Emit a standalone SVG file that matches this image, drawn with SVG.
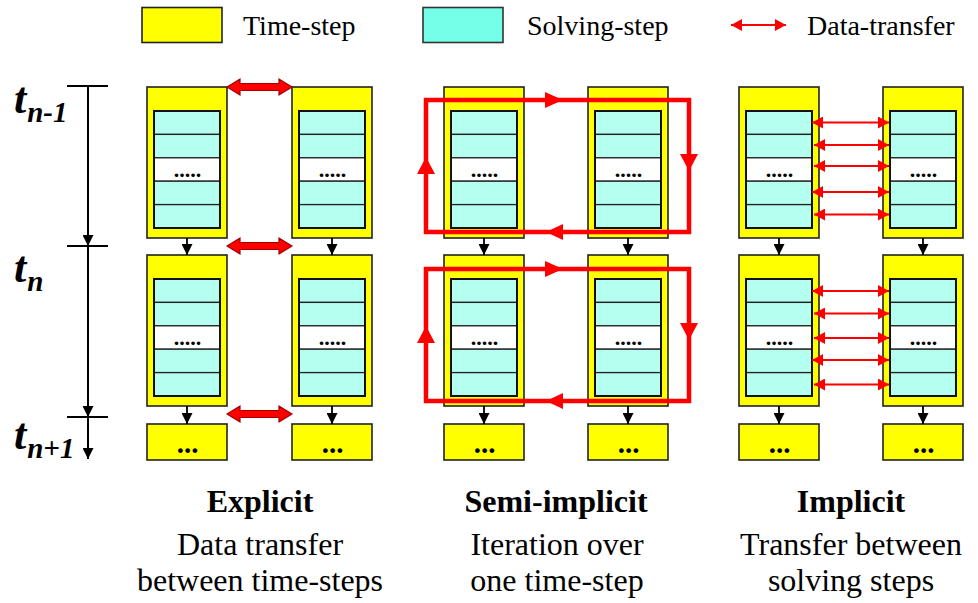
<svg xmlns="http://www.w3.org/2000/svg" xmlns:xlink="http://www.w3.org/1999/xlink" width="978" height="603" viewBox="0 0 978 603">
<style>
.ts{fill:#FFFF00;stroke:#222;stroke-width:1.6}
.row{fill:#B5FFF0;stroke:#222;stroke-width:1.3}
.wrow{fill:#FFFFFF;stroke:#222;stroke-width:1.3}
.frame{fill:none;stroke:#111;stroke-width:2}
.txt{font-family:"Liberation Serif","Times New Roman",serif;fill:#000}
.dots{font-family:"Liberation Serif","Times New Roman",serif;font-weight:bold;fill:#000;text-anchor:middle}
.blk{stroke:#000;stroke-width:1.8;fill:none}
.axis{stroke:#000;stroke-width:2;fill:none}
.loop{stroke:#FF0000;stroke-width:4.5;fill:none;stroke-linejoin:miter}
.lh{fill:#FF0000}
.thin{stroke:#FF0000;stroke-width:2.2;fill:none}
.fat{fill:#FF0000;stroke:#A00000;stroke-width:1.2}
.tl{font-family:"Liberation Serif","Times New Roman",serif;font-weight:bold;font-style:italic;fill:#000}
.cap{font-family:"Liberation Serif","Times New Roman",serif;fill:#000;text-anchor:middle}
</style>
<defs>
<marker id="ah" markerUnits="userSpaceOnUse" markerWidth="11" markerHeight="11" refX="11" refY="5.5" orient="auto">
<path d="M0,0 L11,5.5 L0,11 z" fill="#000"/>
</marker>
<marker id="rh" markerUnits="userSpaceOnUse" markerWidth="12" markerHeight="12" refX="11" refY="6" orient="auto-start-reverse">
<path d="M0,0 L11,6 L0,12 z" fill="#FF0000"/>
</marker>
<g id="stack">
<rect class="ts" x="0" y="0" width="80" height="151"/>
<rect class="row" x="7" y="24" width="66" height="23.4"/>
<rect class="row" x="7" y="47.4" width="66" height="23.4"/>
<rect class="wrow" x="7" y="70.8" width="66" height="23.4"/>
<rect class="row" x="7" y="94.2" width="66" height="23.4"/>
<rect class="row" x="7" y="117.6" width="66" height="23.4"/>
<rect class="frame" x="7" y="24" width="66" height="117"/>
<text class="dots" x="40.5" y="90" font-size="22">.....</text>
</g>
<g id="small">
<rect class="ts" x="0" y="0" width="80" height="36"/>
<text class="dots" x="40.5" y="28.5" font-size="29">...</text>
</g>
<path id="dbl" d="M0,0 L13,-8 L13,-3.5 L52,-3.5 L52,-8 L65,0 L52,8 L52,3.5 L13,3.5 L13,8 z"/>
</defs>

<!-- legend -->
<g id="legend">
<rect class="ts" x="142" y="7.5" width="80" height="35"/>
<text class="txt" x="243" y="35" font-size="28">Time-step</text>
<rect x="423" y="7.5" width="80" height="35" fill="#74FFE8" stroke="#333" stroke-width="1.6"/>
<text class="txt" x="527" y="35" font-size="28">Solving-step</text>
<path class="thin" d="M731,25 H786" marker-start="url(#rh)" marker-end="url(#rh)"/>
<text class="txt" x="807" y="35" font-size="28">Data-transfer</text>
</g>

<!-- time axis -->
<g id="time-axis">
<path class="axis" d="M67,86 H108 M67,246 H108 M67,417 H108"/>
<path class="axis" d="M88,86 V246" marker-end="url(#ah)"/>
<path class="axis" d="M88,246 V417" marker-end="url(#ah)"/>
<path class="axis" d="M88,417 V459" marker-end="url(#ah)"/>
<text class="tl" x="14" y="113" font-size="44">t<tspan font-size="29" dx="1" dy="9">n-1</tspan></text>
<text class="tl" x="14" y="282" font-size="44">t<tspan font-size="29" dx="1" dy="9">n</tspan></text>
<text class="tl" x="14" y="449" font-size="44">t<tspan font-size="29" dx="1" dy="9">n+1</tspan></text>
</g>

<!-- explicit -->
<g id="exp-l1"><use xlink:href="#stack" x="147" y="87"/></g>
<g id="exp-r1"><use xlink:href="#stack" x="292" y="87"/></g>
<g id="exp-l2"><use xlink:href="#stack" x="147" y="255"/></g>
<g id="exp-r2"><use xlink:href="#stack" x="292" y="255"/></g>
<g id="exp-l3"><use xlink:href="#small" x="147" y="424"/></g>
<g id="exp-r3"><use xlink:href="#small" x="292" y="424"/></g>

<!-- semi-implicit -->
<g id="semi-l1"><use xlink:href="#stack" x="444" y="87"/></g>
<g id="semi-r1"><use xlink:href="#stack" x="588" y="87"/></g>
<g id="semi-l2"><use xlink:href="#stack" x="444" y="255"/></g>
<g id="semi-r2"><use xlink:href="#stack" x="588" y="255"/></g>
<g id="semi-l3"><use xlink:href="#small" x="444" y="424"/></g>
<g id="semi-r3"><use xlink:href="#small" x="588" y="424"/></g>

<!-- implicit -->
<g id="imp-l1"><use xlink:href="#stack" x="739" y="87"/></g>
<g id="imp-r1"><use xlink:href="#stack" x="883" y="87"/></g>
<g id="imp-l2"><use xlink:href="#stack" x="739" y="255"/></g>
<g id="imp-r2"><use xlink:href="#stack" x="883" y="255"/></g>
<g id="imp-l3"><use xlink:href="#small" x="739" y="424"/></g>
<g id="imp-r3"><use xlink:href="#small" x="883" y="424"/></g>

<!-- connectors -->
<g id="connectors">
<path class="blk" d="M187,238 V255" marker-end="url(#ah)"/>
<path class="blk" d="M332,238 V255" marker-end="url(#ah)"/>
<path class="blk" d="M484,238 V255" marker-end="url(#ah)"/>
<path class="blk" d="M628,238 V255" marker-end="url(#ah)"/>
<path class="blk" d="M779,238 V255" marker-end="url(#ah)"/>
<path class="blk" d="M923,238 V255" marker-end="url(#ah)"/>
<path class="blk" d="M187,406 V424" marker-end="url(#ah)"/>
<path class="blk" d="M332,406 V424" marker-end="url(#ah)"/>
<path class="blk" d="M484,406 V424" marker-end="url(#ah)"/>
<path class="blk" d="M628,406 V424" marker-end="url(#ah)"/>
<path class="blk" d="M779,406 V424" marker-end="url(#ah)"/>
<path class="blk" d="M923,406 V424" marker-end="url(#ah)"/>

<use xlink:href="#dbl" class="fat" x="227" y="87"/>
<use xlink:href="#dbl" class="fat" x="227" y="246"/>
<use xlink:href="#dbl" class="fat" x="227" y="414"/>

<path class="loop" d="M426,100 H689 V232 H426 Z"/>
<path class="lh" d="M545,92 L563,100 L545,108 z M680,154 L689,171 L698,154 z M563,224 L546,232 L563,240 z M417,174 L426,157 L435,174 z"/>
<path class="loop" d="M426,269 H689 V401 H426 Z"/>
<path class="lh" d="M545,261 L563,269 L545,277 z M680,323 L689,340 L698,323 z M563,393 L546,401 L563,409 z M417,343 L426,326 L435,343 z"/>

<path class="thin" d="M812,122.5 H889" marker-start="url(#rh)" marker-end="url(#rh)"/>
<path class="thin" d="M814,145 H889" marker-start="url(#rh)" marker-end="url(#rh)"/>
<path class="thin" d="M814,166 H889" marker-start="url(#rh)" marker-end="url(#rh)"/>
<path class="thin" d="M812,192 H889" marker-start="url(#rh)" marker-end="url(#rh)"/>
<path class="thin" d="M814,214.5 H889" marker-start="url(#rh)" marker-end="url(#rh)"/>
<path class="thin" d="M812,291 H889" marker-start="url(#rh)" marker-end="url(#rh)"/>
<path class="thin" d="M814,313.5 H889" marker-start="url(#rh)" marker-end="url(#rh)"/>
<path class="thin" d="M814,338 H889" marker-start="url(#rh)" marker-end="url(#rh)"/>
<path class="thin" d="M812,360 H889" marker-start="url(#rh)" marker-end="url(#rh)"/>
<path class="thin" d="M814,384.5 H889" marker-start="url(#rh)" marker-end="url(#rh)"/>
</g>

<!-- captions -->
<g id="captions">
<text class="cap" x="260" y="512" font-size="32" font-weight="bold">Explicit</text>
<text class="cap" x="260" y="555" font-size="32">Data transfer</text>
<text class="cap" x="260" y="591" font-size="32">between time-steps</text>
<text class="cap" x="556" y="512" font-size="32" font-weight="bold">Semi-implicit</text>
<text class="cap" x="557" y="555" font-size="32">Iteration over</text>
<text class="cap" x="557" y="591" font-size="32">one time-step</text>
<text class="cap" x="851" y="512" font-size="32" font-weight="bold">Implicit</text>
<text class="cap" x="851" y="555" font-size="32">Transfer between</text>
<text class="cap" x="851" y="591" font-size="32">solving steps</text>
</g>
</svg>
